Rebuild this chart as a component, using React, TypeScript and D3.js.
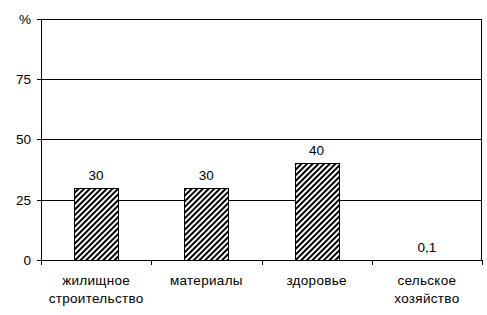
import React from "react";
import * as d3 from "d3";

const categories = [["жилищное", "строительство"], ["материалы"], ["здоровье"], ["сельское", "хозяйство"]];
const values = [30, 30, 40, 0.1];
const valueLabels = ["30", "30", "40", "0,1"];
const yTicks = [0, 25, 50, 75];

export default function App() {
  const W = 487, H = 315;
  const left = 41, right = 482, top = 18.5, bottom = 260;
  const x = d3.scaleBand<number>().domain(d3.range(categories.length)).range([left, right]).paddingInner(0).paddingOuter(0);
  const y = d3.scaleLinear().domain([0, 100]).range([bottom, top]);
  const barW = 44;
  const font = "Arial, 'Liberation Sans', sans-serif";
  const fs = 13.5;
  return (
    <svg width={W} height={H} style={{ position: "absolute", left: 0, top: 0, background: "#fff" }}>
      <defs>
        <pattern id="hatch" patternUnits="userSpaceOnUse" width="4" height="4" patternTransform="rotate(45)">
          <rect width="4" height="4" fill="#fff" />
          <line x1="1" y1="0" x2="1" y2="4" stroke="#000" strokeWidth="2" />
        </pattern>
      </defs>
      {yTicks.concat([100]).map((t) => (
        <line key={"g" + t} x1={left} x2={right} y1={Math.round(y(t)) + 0.5} y2={Math.round(y(t)) + 0.5} stroke="#000" strokeWidth={1} />
      ))}
      <line x1={right - 0.5} x2={right - 0.5} y1={Math.round(y(100)) + 0.5} y2={bottom} stroke="#000" />
      {values.map((v, i) => {
        const cx = x(i)! + x.bandwidth() / 2;
        const yt = y(v);
        return (
          <g key={"b" + i}>
            {v >= 1 && (
              <rect x={Math.round(cx - barW / 2) + 0.5} y={Math.round(yt) + 0.5} width={barW} height={bottom - Math.round(yt)} fill="url(#hatch)" stroke="#000" strokeWidth={1} />
            )}
            <text x={cx} y={yt - 8} textAnchor="middle" fontFamily={font} fontSize={fs} fill="#000">{valueLabels[i]}</text>
          </g>
        );
      })}
      <line x1={left + 0.5} x2={left + 0.5} y1={Math.round(y(100))} y2={bottom + 4} stroke="#000" />
      {yTicks.concat([100]).map((t) => (
        <line key={"t" + t} x1={left - 4} x2={left} y1={Math.round(y(t)) + 0.5} y2={Math.round(y(t)) + 0.5} stroke="#000" />
      ))}
      {d3.range(categories.length + 1).map((i) => {
        const xx = i < categories.length ? x(i)! : right;
        return <line key={"ct" + i} x1={Math.round(xx) + 0.5} x2={Math.round(xx) + 0.5} y1={bottom} y2={bottom + 5} stroke="#000" />;
      })}
      {yTicks.map((t) => (
        <text key={"yl" + t} x={31} y={y(t) + 5} textAnchor="end" fontFamily={font} fontSize={fs} fill="#000">{t}</text>
      ))}
      <text x={31} y={y(100) + 5.5} textAnchor="end" fontFamily={font} fontSize={fs} fill="#000">%</text>
      {categories.map((lines, i) => {
        const cx = x(i)! + x.bandwidth() / 2;
        return (
          <text key={"c" + i} textAnchor="middle" fontFamily={font} fontSize={fs} letterSpacing={0.3} fill="#000">
            {lines.map((l, j) => (
              <tspan key={j} x={cx} y={285 + j * 18}>{l}</tspan>
            ))}
          </text>
        );
      })}
    </svg>
  );
}
